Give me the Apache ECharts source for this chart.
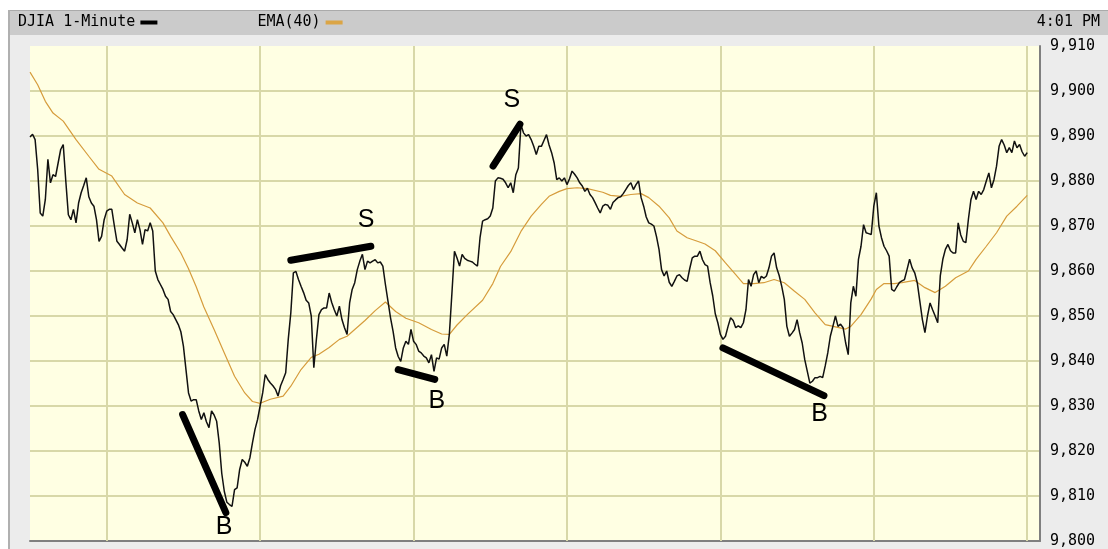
<!DOCTYPE html>
<html lang="en">

<head>
	<meta charset="UTF-8">
	<title>DJIA 1-Minute</title>
</head>

<body style="margin:0;background:#fff;">
	<div id="chart" style="height:549px;width:1108px;"></div>
</body>
<script type="text/javascript" src="https://cdn.jsdelivr.net/npm/echarts@6/dist/echarts.min.js"></script>
<script type="text/javascript">
	// minutes after 9:30, one value per minute
	let djia = [
		9889.8, 9890.4, 9889.2, 9882.6, 9872.9, 9872.2, 9875.9, 9884.8, 9879.6, 9881.4,
		9881.0, 9884.0, 9887.0, 9888.1, 9880.0, 9872.5, 9871.4, 9873.7, 9870.7, 9875.1,
		9877.4, 9879.0, 9880.7, 9876.5, 9875.1, 9874.4, 9871.4, 9866.6, 9867.7, 9871.4,
		9873.3, 9873.7, 9873.7, 9870.0, 9866.6, 9865.9, 9865.1, 9864.4, 9867.0, 9872.6,
		9870.7, 9868.5, 9871.4, 9869.2, 9865.9, 9869.2, 9868.9, 9870.7, 9868.9, 9860.0,
		9858.1, 9857.0, 9855.9, 9854.4, 9853.7, 9851.0, 9850.3, 9849.2, 9848.1, 9846.5,
		9843.3, 9838.1, 9832.9, 9831.1, 9831.4, 9831.4, 9828.9, 9827.0, 9828.5, 9826.5,
		9825.2, 9828.9, 9828.0, 9826.6, 9821.8, 9815.0, 9811.0, 9808.6, 9808.1, 9807.7,
		9811.4, 9811.8, 9815.9, 9818.1, 9817.5, 9816.6, 9818.5, 9821.8, 9824.8, 9827.0,
		9830.0, 9832.9, 9837.0, 9835.9, 9835.1, 9834.5, 9833.7, 9832.2, 9834.5, 9835.9,
		9837.4, 9844.8, 9850.7, 9859.6, 9859.9, 9858.1, 9856.6, 9855.2, 9853.5, 9852.9,
		9850.0, 9838.5, 9844.8, 9850.3, 9851.4, 9851.8, 9851.8, 9855.1, 9853.0, 9851.4,
		9850.0, 9852.2, 9849.2, 9847.4, 9845.9, 9852.9, 9855.9, 9857.4, 9860.3, 9862.2,
		9863.7, 9860.3, 9862.2, 9861.8, 9862.2, 9862.5, 9861.8, 9862.0, 9861.1, 9857.0,
		9853.3, 9849.6, 9846.6, 9842.9, 9841.0, 9839.9, 9842.9, 9844.4, 9843.7, 9847.0,
		9844.4, 9843.7, 9842.2, 9841.8, 9841.1, 9840.7, 9839.6, 9841.4, 9837.7, 9840.7,
		9840.4, 9842.9, 9843.7, 9841.1, 9845.9, 9855.0, 9864.4, 9862.9, 9861.1, 9863.7,
		9862.8, 9862.4, 9862.2, 9862.0, 9861.5, 9861.1, 9867.4, 9871.1, 9871.4, 9871.6,
		9872.2, 9874.0, 9880.0, 9880.7, 9880.6, 9880.4, 9879.6, 9878.5, 9879.6, 9877.4,
		9881.4, 9882.9, 9892.5, 9890.7, 9890.0, 9890.3, 9889.2, 9887.7, 9885.9, 9887.7,
		9887.7, 9889.0, 9890.3, 9888.0, 9886.3, 9884.0, 9880.3, 9880.7, 9880.0, 9880.7,
		9879.2, 9880.5, 9882.2, 9881.5, 9880.7, 9879.6, 9878.9, 9877.7, 9878.4, 9877.0,
		9876.3, 9875.2, 9874.0, 9872.9, 9874.4, 9874.8, 9874.6, 9873.7, 9875.2, 9875.8,
		9876.3, 9876.5, 9877.2, 9878.1, 9879.0, 9879.6, 9878.1, 9879.2, 9880.0, 9876.3,
		9874.4, 9872.0, 9870.7, 9870.4, 9870.0, 9867.7, 9864.8, 9860.3, 9858.9, 9860.0,
		9857.5, 9856.6, 9857.7, 9858.9, 9859.2, 9858.5, 9858.0, 9857.7, 9860.5, 9862.9,
		9863.3, 9863.3, 9864.4, 9862.5, 9861.4, 9861.1, 9857.4, 9854.5, 9850.5, 9848.5,
		9845.9, 9844.8, 9845.5, 9847.7, 9849.6, 9849.0, 9847.4, 9847.8, 9847.4, 9848.5,
		9851.4, 9858.1, 9856.6, 9859.2, 9860.0, 9857.4, 9858.8, 9858.4, 9858.9, 9860.7,
		9863.3, 9864.0, 9860.7, 9859.0, 9856.6, 9853.7, 9847.7, 9845.5, 9846.2, 9847.0,
		9849.2, 9846.3, 9844.0, 9840.3, 9837.7, 9835.1, 9835.5, 9836.3, 9836.3, 9836.6,
		9836.3, 9838.9, 9841.8, 9845.5, 9847.7, 9850.0, 9847.7, 9848.2, 9847.4, 9844.0,
		9841.4, 9852.9, 9856.6, 9854.4, 9862.6, 9865.5, 9870.3, 9868.5, 9868.3, 9868.1,
		9874.4, 9877.4, 9870.0, 9867.4, 9865.5, 9864.5, 9863.3, 9855.9, 9855.5, 9856.5,
		9857.4, 9857.8, 9858.1, 9860.3, 9862.6, 9860.7, 9859.6, 9857.4, 9853.3, 9849.2,
		9846.3, 9850.0, 9852.9, 9851.4, 9850.0, 9848.5, 9858.9, 9862.6, 9864.8, 9865.9,
		9864.5, 9864.0, 9864.0, 9870.7, 9868.0, 9866.6, 9866.3, 9871.5, 9875.9, 9877.7,
		9875.9, 9877.7, 9877.0, 9878.1, 9880.0, 9881.8, 9878.5, 9880.3, 9883.3, 9887.7,
		9889.2, 9888.0, 9886.3, 9887.4, 9886.3, 9888.9, 9887.4, 9888.1, 9886.5, 9885.5,
		9886.3
	];

	// EMA(40), read at these minutes
	let emaMinutes = [0, 3, 6, 9, 13, 18, 23, 27, 32, 37, 42, 47, 52, 55, 59, 62, 65, 68, 72, 76,
		80, 84, 87, 90, 94, 99, 102, 106, 110, 113, 117, 121, 124, 128, 131, 135, 139, 143, 147, 152,
		157, 161, 164, 167, 171, 177, 181, 184, 188, 192, 196, 200, 203, 207, 210, 214, 218, 224, 227, 231,
		235, 239, 242, 246, 250, 253, 257, 261, 264, 268, 272, 276, 279, 283, 287, 291, 295, 299, 303, 307,
		311, 315, 319, 321, 325, 329, 331, 334, 338, 341, 346, 350, 354, 358, 362, 367, 370, 374, 378, 382,
		386, 390];
	let emaValues = [9904.2, 9901.4, 9897.7, 9895.1, 9893.3, 9889.2, 9885.5, 9882.6, 9881.1, 9877.0,
		9875.1, 9874.0, 9870.7, 9867.7, 9864.0, 9860.5, 9856.5, 9852.0, 9847.0, 9841.8,
		9836.6, 9832.9, 9831.0, 9830.6, 9831.5, 9832.2, 9834.4, 9838.1, 9840.8, 9841.5,
		9843.0, 9844.8, 9845.5, 9847.5, 9849.0, 9851.2, 9853.1, 9851.0, 9849.5, 9848.5,
		9847.0, 9846.0, 9845.9, 9848.0, 9850.3, 9853.5, 9857.2, 9861.0, 9864.3, 9868.8,
		9872.2, 9874.8, 9876.6, 9877.7, 9878.3, 9878.5, 9878.3, 9877.5, 9876.8, 9876.6,
		9877.0, 9877.2, 9876.3, 9874.4, 9871.8, 9868.9, 9867.4, 9866.6, 9866.0, 9864.5,
		9861.8, 9859.2, 9857.2, 9857.2, 9857.4, 9858.1, 9857.4, 9855.5, 9853.7, 9850.7,
		9848.1, 9847.6, 9847.1, 9847.7, 9850.3, 9853.8, 9855.9, 9857.2, 9857.2, 9857.4,
		9857.9, 9856.3, 9855.2, 9856.6, 9858.5, 9860.0, 9862.6, 9865.5, 9868.5, 9872.2,
		9874.4, 9876.8];

	// hour lines 10:00 .. 16:00
	let hourMinutes = [30, 90, 150, 210, 270, 330, 390];

	// hand drawn buy / sell marks
	let markStart = [[59.7, 9828.1], [102, 9862.4], [144, 9838.1], [181.1, 9883.3], [271, 9842.9]];
	let markEnd = [[76.6, 9806.3], [133.3, 9865.5], [158.3, 9835.9], [191.6, 9892.6], [310.5, 9832.3]];
	let markLetters = ['B', 'S', 'B', 'S', 'B'];
	let letterPos = [[75.9, 9803], [131.4, 9871.4], [159.1, 9831], [188.4, 9897.9], [308.8, 9828.1]];

	let myChart = echarts.init(document.getElementById('chart'));
	let mono = 'DejaVu Sans Mono';

	function getOption() {
		return {
			animation: false,
			backgroundColor: '#fff',
			graphic: [
				{ type: 'rect', z: -100, silent: true, shape: { x: 8, y: 10, width: 1100, height: 539 }, style: { fill: '#ececec' } },
				{ type: 'rect', z: -99, silent: true, shape: { x: 8, y: 10, width: 1100, height: 25 }, style: { fill: '#cbcbcb' } },
				{ type: 'line', z: -98, silent: true, shape: { x1: 8, y1: 10.5, x2: 1108, y2: 10.5 }, style: { stroke: '#aaa', lineWidth: 1 } },
				{ type: 'line', z: -98, silent: true, shape: { x1: 9, y1: 10, x2: 9, y2: 549 }, style: { stroke: '#b0b0b0', lineWidth: 2 } }
			],
			title: {
				text: '4:01 PM',
				right: 8,
				top: 15,
				padding: 0,
				textStyle: { fontFamily: mono, fontSize: 15, fontWeight: 'normal', color: '#000' }
			},
			legend: {
				left: 18,
				top: 15,
				padding: 0,
				align: 'right',
				icon: 'rect',
				itemWidth: 17,
				itemHeight: 4,
				itemGap: 100,
				textStyle: { fontFamily: mono, fontSize: 15, color: '#000' },
				data: ['DJIA 1-Minute', 'EMA(40)']
			},
			grid: {
				show: true,
				left: 30,
				right: 68,
				top: 46,
				bottom: 8,
				backgroundColor: '#ffffe3',
				borderWidth: 0
			},
			xAxis: {
				type: 'value',
				min: 0,
				max: 395,
				axisLine: { show: true, onZero: false, lineStyle: { color: '#7f7f7f', width: 2 } },
				axisTick: { show: false },
				axisLabel: { show: false },
				splitLine: { show: false }
			},
			yAxis: {
				type: 'value',
				position: 'right',
				min: 9800,
				max: 9910,
				interval: 10,
				axisLine: { show: true, onZero: false, lineStyle: { color: '#7f7f7f', width: 2 } },
				axisTick: { show: false },
				axisLabel: {
					margin: 10,
					color: '#000',
					fontFamily: mono,
					fontSize: 15,
					formatter: function (v) {
						return v.toLocaleString('en-US');
					}
				},
				splitLine: { show: true, showMaxLine: false, lineStyle: { color: '#d8d8a8', width: 2 } }
			},
			series: [
				{
					// vertical hour lines
					type: 'line',
					z: 1,
					data: [],
					markLine: {
						z: 1,
						silent: true,
						symbol: 'none',
						label: { show: false },
						lineStyle: { color: '#d8d8a8', width: 2, type: 'solid' },
						data: hourMinutes.map(function (m) {
							return { xAxis: m };
						})
					}
				},
				{
					name: 'EMA(40)',
					type: 'line',
					z: 3,
					symbol: 'none',
					itemStyle: { color: '#dba545' },
					lineStyle: { color: '#d69c3c', width: 1.2 },
					data: emaMinutes.map(function (m, i) {
						return [m, emaValues[i]];
					})
				},
				{
					name: 'DJIA 1-Minute',
					type: 'line',
					z: 4,
					symbol: 'none',
					itemStyle: { color: '#000' },
					lineStyle: { color: '#111', width: 1.5 },
					data: djia.map(function (v, i) {
						return [i, v];
					}),
					markLine: {
						z: 6,
						silent: true,
						symbol: 'none',
						label: { show: false },
						lineStyle: { color: '#000', width: 7, type: 'solid', cap: 'round' },
						data: markStart.map(function (p, i) {
							return [{ coord: p }, { coord: markEnd[i] }];
						})
					},
					markPoint: {
						z: 6,
						silent: true,
						symbol: 'circle',
						symbolSize: 0,
						label: {
							show: true,
							position: 'inside',
							formatter: '{b}',
							fontFamily: 'Liberation Sans',
							fontSize: 25,
							color: '#000'
						},
						data: markLetters.map(function (l, i) {
							return { name: l, coord: letterPos[i] };
						})
					}
				}
			]
		};
	}

	myChart.setOption(getOption());
</script>

</html>
